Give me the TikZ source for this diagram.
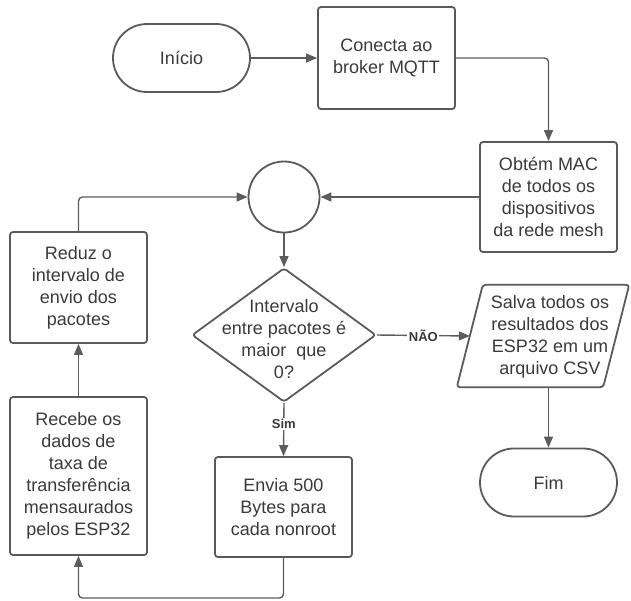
\documentclass[tikz,border=0pt]{standalone}
\usepackage{fontspec}
\setmainfont{Liberation Sans}
\usetikzlibrary{arrows.meta,shapes.geometric,calc}
\definecolor{edgegray}{HTML}{5A5A5A}
\definecolor{linegray}{HTML}{5C5C5C}
\definecolor{textgray}{HTML}{3A3A3A}
\begin{document}
\begin{tikzpicture}[x=1pt,y=-1pt,
  every node/.style={text=textgray,font=\fontsize{18}{22}\selectfont,align=center},
  procbox/.style={draw=edgegray,line width=1.8pt,rounded corners=3pt,
    minimum width=137pt,inner sep=0pt},
  termbox/.style={draw=edgegray,line width=1.8pt,rounded corners=34pt,
    minimum width=137pt,minimum height=68pt,inner sep=0pt},
  joinpt/.style={draw=edgegray,line width=1.8pt,circle,minimum size=71pt,inner sep=0pt},
  decbox/.style={draw=edgegray,line width=1.8pt,diamond,rounded corners=3pt,
    minimum width=184pt,minimum height=134pt,inner sep=0pt},
  iobox/.style={minimum width=172pt,minimum height=102pt,inner sep=0pt},
  ioedge/.style={draw=edgegray,line width=1.8pt,rounded corners=3pt},
  flow/.style={draw=linegray,line width=1.4pt,-{Triangle[length=11pt,width=9pt]}},
  tag/.style={fill=white,inner sep=1.5pt,font=\bfseries\fontsize{13}{15}\selectfont}
]
\useasboundingbox (0,0) rectangle (631,600);

% start / end terminators
\node[termbox] (inicio) at (181.5,58) {Início};
\node[termbox] (fim) at (548.5,482.5) {Fim};

% process steps
\node[procbox,minimum height=102pt] (conecta) at (386.5,58) {Conecta ao\\broker MQTT};
\node[procbox,minimum height=110pt] (obtem) at (548.5,197) {Obtém MAC\\de todos os\\dispositivos\\da rede mesh};
\node[procbox,minimum height=111pt] (reduz) at (78.5,287.5) {Reduz o\\intervalo de\\envio dos\\pacotes};
\node[procbox,minimum height=158pt] (recebe) at (78.5,476) {Recebe os\\dados de\\taxa de\\transferência\\mensaurados\\pelos ESP32};
\node[procbox,minimum height=100pt] (envia) at (283.5,507) {Envia 500\\Bytes para\\cada nonroot};

% loop junction
\node[joinpt] (junta) at (284,197) {};

% decision
\node[decbox] (decide) at (284,335) {};
\node (decidetxt) at (284,339) {Intervalo\\entre pacotes é\\maior\ \ que\\0?};

% output to file: a parallelogram leaning right
\node[iobox] (salva) at (543,336) {};
\draw[ioedge] (salva.south west) -- ([xshift=26pt]salva.north west)
  -- (salva.north east) -- ([xshift=-26pt]salva.south east) -- cycle;
\node (salvatxt) at (550,337) {Salva todos os\\resultados dos\\ESP32 em um\\arquivo CSV};
\coordinate (salvain) at ([xshift=13pt]salva.west);

% bottom rail of the loop
\coordinate (rail) at (0,598);

% connectors
\draw[flow] (inicio.east) -- (conecta.west);
\draw[flow,rounded corners=4pt] (conecta.east) -| (obtem.north);
\draw[flow] (obtem.west) -- (junta.east);
\draw[flow,rounded corners=4pt] (reduz.north) |- (junta.west);
\draw[flow] (junta.south) -- (decide.north);
\draw[flow] (decide.east) -- node[tag] {NÃO} (salvain);
\draw[flow] (fim.north |- salva.south) -- (fim.north);
\draw[flow] (decide.south) -- node[tag,pos=0.4] {Sim} (envia.north);
\draw[flow,rounded corners=4pt] (envia.south) -- (envia.south |- rail)
  -- (recebe.south |- rail) -- (recebe.south);
\draw[flow] (recebe.north) -- (reduz.south);
\end{tikzpicture}
\end{document}
